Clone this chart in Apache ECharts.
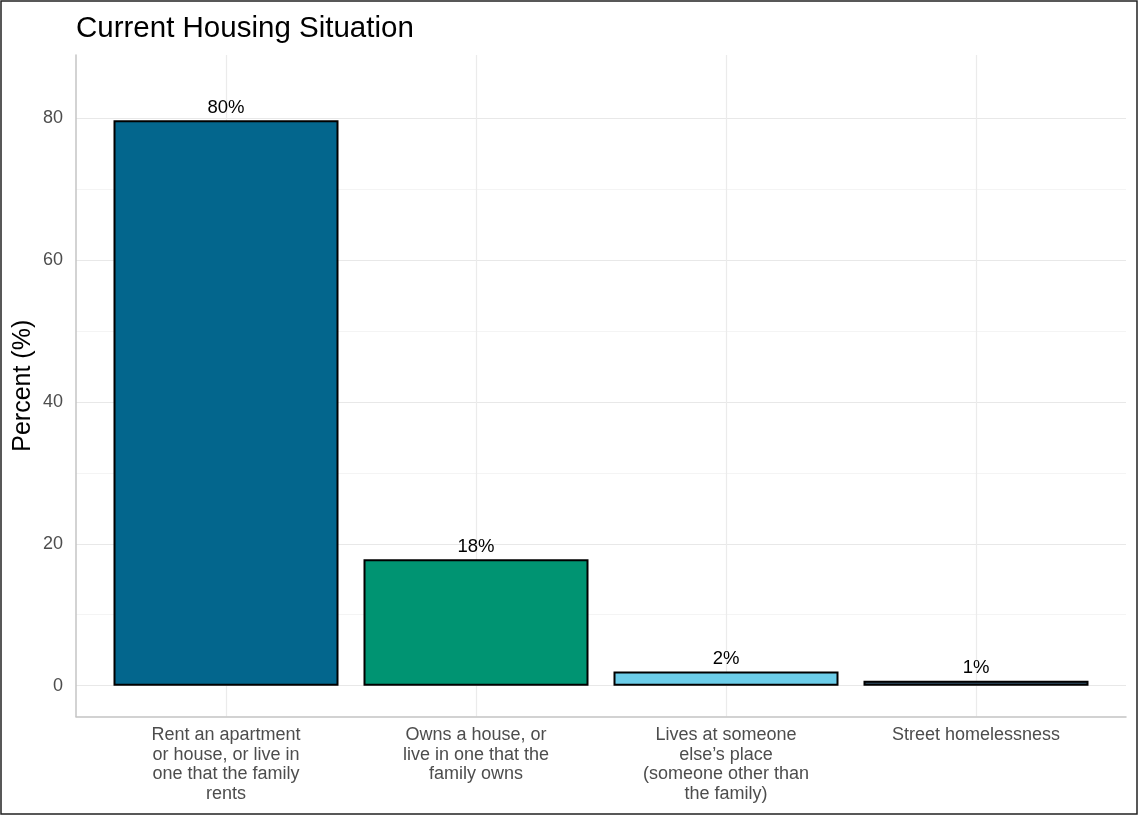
<!DOCTYPE html>
<html>
<head>
<meta charset="utf-8">
<script src="https://cdn.jsdelivr.net/npm/echarts@6/dist/echarts.min.js"></script>
<style>
  html, body { margin: 0; padding: 0; background: #fff; }
  #chart { width: 1139px; height: 816px; }
</style>
</head>
<body>
<div id="chart"></div>
<script>
const title = 'Current Housing Situation';
const yTitle = 'Percent (%)';
const categories = [
  'Rent an apartment\nor house, or live in\none that the family\nrents',
  'Owns a house, or\nlive in one that the\nfamily owns',
  'Lives at someone\nelse\u2019s place\n(someone other than\nthe family)',
  'Street homelessness'
];
const values = [79.7, 17.8, 2.0, 0.7];
const barColors = ['#03668d', '#009472', '#6ccde9', '#35536a'];
const yTickLabels = [0, 20, 40, 60, 80];
const yGridValues = [0, 10, 20, 30, 40, 50, 60, 70, 80];

const FONT = 'Liberation Sans, Arial, Helvetica, sans-serif';
const chart = echarts.init(document.getElementById('chart'), null, { renderer: 'canvas' });

const xPositions = categories.map((c, i) => i + 1);

chart.setOption({
  animation: false,
  backgroundColor: '#ffffff',
  title: {
    text: title,
    left: 71,
    top: 9,
    textStyle: { fontFamily: FONT, fontSize: 29.5, fontWeight: 'normal', color: '#000' }
  },
  graphic: [{
    type: 'rect',
    shape: { x: 1, y: 1, width: 1136, height: 813 },
    style: { fill: 'none', stroke: '#222', lineWidth: 1.5 },
    silent: true
  }],
  grid: { left: 76, right: 13, top: 55, bottom: 99.5, containLabel: false, outerBoundsMode: 'none' },
  xAxis: {
    type: 'value',
    min: 0.4,
    max: 4.6,
    axisLine: { show: true, onZero: false, lineStyle: { color: '#c4c4c4', width: 1.5 } },
    axisTick: { show: false, customValues: xPositions },
    axisLabel: {
      customValues: xPositions,
      formatter: v => categories[Math.round(v) - 1] || '',
      fontFamily: FONT, fontSize: 18, color: '#4d4d4d',
      lineHeight: 19.5, margin: 9, align: 'center', verticalAlign: 'top'
    },
    splitLine: { show: true, lineStyle: { color: '#ebebeb', width: 1.2 } }
  },
  yAxis: {
    type: 'value',
    min: -4.35,
    max: 88.9,
    name: yTitle,
    nameLocation: 'middle',
    nameRotate: 90,
    nameGap: 40,
    nameMoveOverlap: false,
    nameTextStyle: { fontFamily: FONT, fontSize: 25, color: '#000' },
    axisLine: { show: true, onZero: false, lineStyle: { color: '#c4c4c4', width: 1.5 } },
    axisTick: { show: false, customValues: yGridValues },
    axisLabel: {
      customValues: yTickLabels,
      fontFamily: FONT, fontSize: 18, color: '#4d4d4d', margin: 13
    },
    splitLine: { show: true, lineStyle: { color: ['#e8e8e8', '#f4f4f4'], width: 1.2 } }
  },
  series: [{
    type: 'bar',
    barWidth: '90%',
    data: values.map((v, i) => ({
      value: [xPositions[i], v],
      itemStyle: { color: barColors[i], borderColor: '#000', borderWidth: 2 }
    })),
    label: {
      show: true,
      position: 'top',
      distance: 3,
      formatter: p => Math.round(p.value[1]) + '%',
      fontFamily: FONT, fontSize: 18.5, color: '#000'
    }
  }]
});
</script>
</body>
</html>
